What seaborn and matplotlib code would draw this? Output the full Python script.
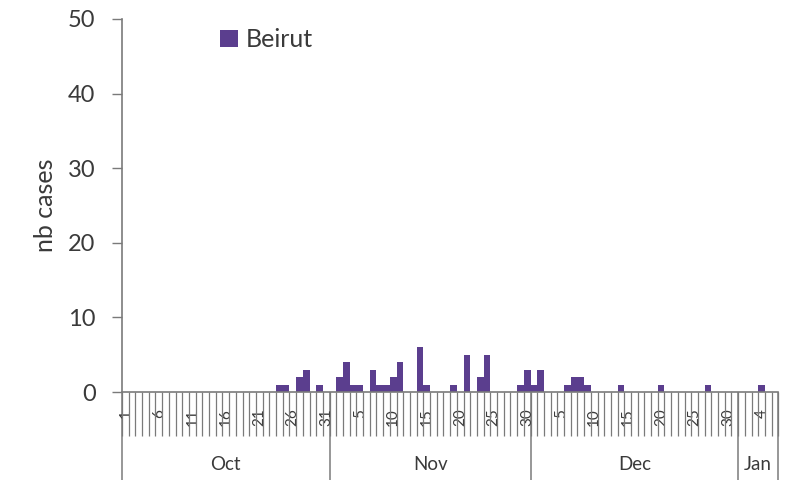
import matplotlib
matplotlib.use("Agg")
import matplotlib.pyplot as plt
import seaborn as sns
import numpy as np
import pandas as pd

# daily case counts, Oct 1 -> Jan 6 (index 0 = Oct 1)
days = pd.date_range("2022-10-01", "2023-01-06", freq="D")
case_days = [23, 24, 26, 27, 29, 32, 33, 34, 35, 37, 38, 39, 40, 41, 44, 45,
             49, 51, 53, 54, 59, 60, 61, 62, 66, 67, 68, 69, 74, 80, 87, 95]
case_counts = [1, 1, 2, 3, 1, 2, 4, 1, 1, 3, 1, 1, 2, 4, 6, 1,
               1, 5, 2, 5, 1, 3, 1, 3, 1, 2, 2, 1, 1, 1, 1, 1]
months = ["Oct", "Nov", "Dec", "Jan"]
series_name = "Beirut"

cases = np.zeros(len(days))
cases[case_days] = case_counts
df = pd.DataFrame({"pos": np.arange(len(days)), "cases": cases})

sns.set_style("white")
plt.rcParams["font.family"] = ["Lato", "DejaVu Sans"]
txt = "#3a3a3a"
grey = "#7a7a7a"

fig = plt.figure(figsize=(7.87, 4.87), dpi=100)
ax = fig.add_axes([0.155, 0.195, 0.834, 0.766])

sns.barplot(data=df, x="pos", y="cases", color="#5b3e8e", width=1.0,
            saturation=1, linewidth=0, label=series_name, ax=ax)

ax.set_ylim(0, 50)
ax.set_xlim(-0.5, len(days) - 0.5)
ax.set_yticks(range(0, 51, 10))
ax.tick_params(axis="y", length=7, width=1, color=grey, pad=12,
               labelsize=17, labelcolor=txt, left=True)
ax.set_ylabel("nb cases", fontsize=18, color=txt, labelpad=8)
ax.set_xlabel("")

# day numbers every 5 days, tick lines between every day
lab_pos = np.arange(0, len(days), 5)
ax.set_xticks(lab_pos, [str(days[i].day) for i in lab_pos], rotation=90)
ax.set_xticks(np.arange(-0.5, len(days), 1), minor=True)
ax.tick_params(axis="x", which="major", length=0, pad=12,
               labelsize=11, labelcolor=txt)
ax.tick_params(axis="x", which="minor", length=32, width=0.9,
               color=grey, bottom=True)

# month row
bounds = [-0.5]
centers = []
for m in pd.unique(days.to_period("M")):
    idx = np.where(days.to_period("M") == m)[0]
    centers.append((idx[0] + idx[-1]) / 2)
    bounds.append(idx[-1] + 0.5)
sec = ax.secondary_xaxis("bottom")
sec.set_xticks(bounds, [""] * len(bounds))
sec.set_xticks(centers, months, minor=True)
sec.tick_params(which="major", length=63, width=1.1, color=grey)
sec.tick_params(which="minor", length=0, pad=46, labelsize=13.5, labelcolor=txt)
sec.spines["bottom"].set_visible(False)

for s in ["top", "right"]:
    ax.spines[s].set_visible(False)
for s in ["left", "bottom"]:
    ax.spines[s].set_color(grey)
    ax.spines[s].set_linewidth(1.2)

ax.legend(loc="center", bbox_to_anchor=(0.22, 0.944), frameon=False,
          handlelength=0.7, handleheight=0.7, handletextpad=0.3,
          fontsize=18, labelcolor=txt)

fig.savefig("out.png", dpi=100)
